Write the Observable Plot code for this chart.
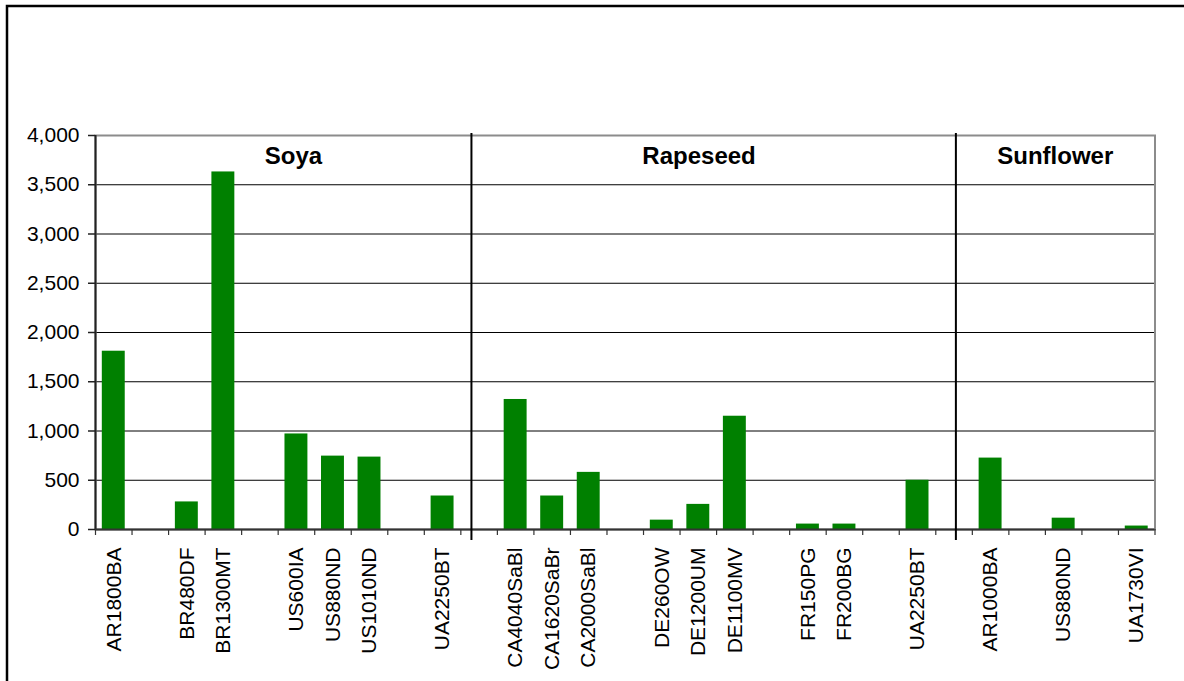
<!DOCTYPE html>
<html>
<head>
<meta charset="utf-8">
<script src="https://cdn.jsdelivr.net/npm/d3@7"></script>
<script src="https://cdn.jsdelivr.net/npm/@observablehq/plot@0.6"></script>
<style>
  html, body { margin: 0; padding: 0; background: #fff; }
  #chart { width: 1184px; height: 681px; overflow: hidden; }
</style>
</head>
<body>
<div id="chart"></div>
<script>
// Category slots (empty strings are blank slots in the original chart)
const categories = [
  "AR1800BA", "", "BR480DF", "BR1300MT", "", "US600IA", "US880ND", "US1010ND", "", "UA2250BT",
  "",
  "CA4040SaBl", "CA1620SaBr", "CA2000SaBl", "", "DE260OW", "DE1200UM", "DE1100MV", "",
  "FR150PG", "FR200BG", "", "UA2250BT",
  "",
  "AR1000BA", "", "US880ND", "", "UA1730VI"
];
const values = [
  1810, null, 280, 3630, null, 970, 745, 735, null, 340,
  null,
  1320, 340, 580, null, 95, 255, 1150, null,
  55, 55, null, 500,
  null,
  725, null, 115, null, 35
];
// Group names, where their titles sit (in slot units) and the group divider lines (slot units)
const groups = ["Soya", "Rapeseed", "Sunflower"];
const groupLabelSlot = [5.42, 16.52, 26.27];
const separators = [10.29, 23.55];
const yTicks = [0, 500, 1000, 1500, 2000, 2500, 3000, 3500, 4000];

const bars = categories.map((c, i) => ({slot: i, name: c, value: values[i]})).filter(d => d.value != null);
const labelled = categories.map((c, i) => ({slot: i, name: c})).filter(d => d.name !== "");
const groupData = groups.map((g, i) => ({name: g, slot: groupLabelSlot[i]}));

const font = "'Liberation Sans', Arial, sans-serif";

const svg = Plot.plot({
  width: 1184,
  height: 681,
  marginLeft: 95,
  marginRight: 29.5,
  marginTop: 135,
  marginBottom: 152,
  style: {fontFamily: font, fontSize: "21px", color: "#000", background: "#fff", overflow: "visible"},
  x: {type: "linear", domain: [0, categories.length], axis: null},
  y: {domain: [0, 4000], axis: null},
  marks: [
    Plot.ruleY(yTicks.filter(t => t > 0 && t < 4000), {stroke: "#000", strokeWidth: 1}),
    Plot.frame({stroke: "#8c8c8c", strokeWidth: 2}),
    Plot.rect(bars, {
      x1: d => d.slot, x2: d => d.slot + 1, y1: 0, y2: "value",
      insetLeft: 6.8, insetRight: 6.8, fill: "#008000"
    }),
    Plot.ruleX([0], {stroke: "#222", strokeWidth: 2}),
    Plot.ruleY([0], {stroke: "#333", strokeWidth: 2}),
    Plot.axisY({ticks: yTicks, tickFormat: d3.format(","), tickSize: 7, tickPadding: 9,
      fontSize: 21, label: null, stroke: "#222", strokeWidth: 1.5}),
    Plot.axisX({ticks: d3.range(0, categories.length + 1), tickFormat: () => "", tickSize: 6,
      label: null, stroke: "#333", strokeWidth: 1.2}),
    Plot.axisX({ticks: labelled.map(d => d.slot + 0.5),
      tickFormat: t => categories[Math.floor(t)], tickSize: 0, tickPadding: 18,
      tickRotate: -90, fontSize: 21, label: null}),
    Plot.ruleX(separators, {y1: 4000, y2: 0, stroke: "#000", strokeWidth: 2, insetTop: -2, insetBottom: -11}),
    Plot.text(groupData, {x: "slot", y: () => 4000, text: "name", dy: 21,
      fontSize: 24, fontWeight: "bold", fill: "#000"})
  ]
});

// outer chart border (top and left edges visible in the original)
d3.select(svg).append("path")
  .attr("d", "M7,700V6H1190")
  .attr("fill", "none")
  .attr("stroke", "#000")
  .attr("stroke-width", 2.5);

document.getElementById("chart").appendChild(svg);
</script>
</body>
</html>
